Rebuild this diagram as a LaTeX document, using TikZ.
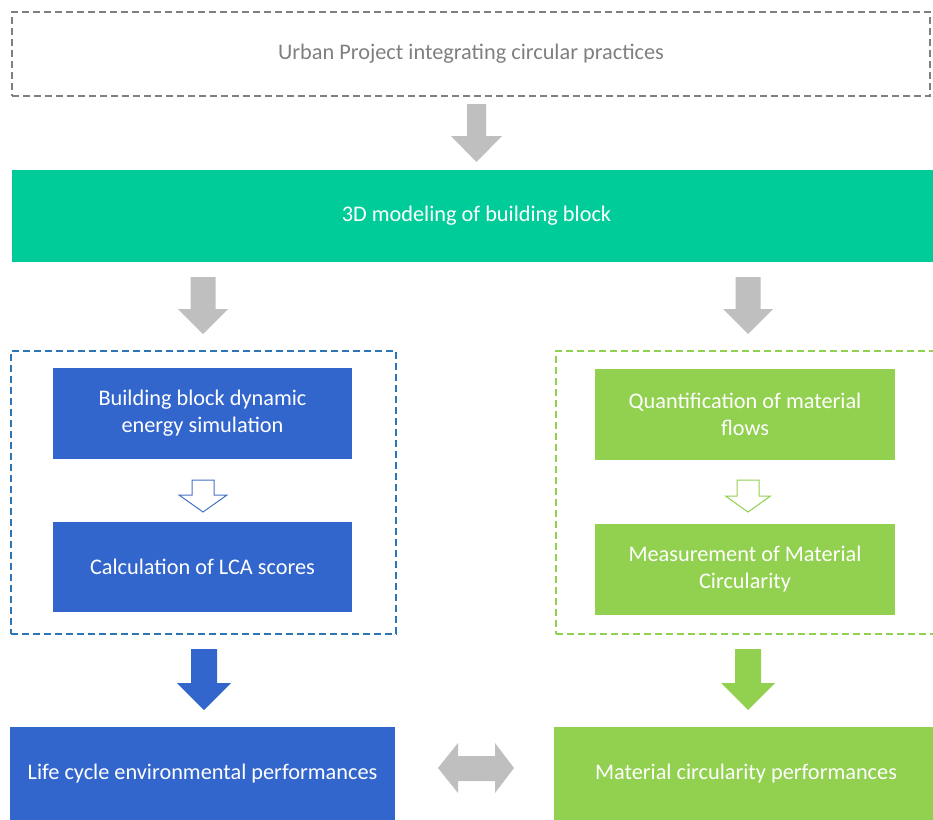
\documentclass[tikz,border=0pt]{standalone}
\usepackage{fontspec}
\setmainfont{Carlito}
\definecolor{teal1}{HTML}{00CC99}
\definecolor{blue1}{HTML}{3366CC}
\definecolor{green1}{HTML}{92D050}
\definecolor{dashblue}{HTML}{2E75B6}
\definecolor{arrowgray}{HTML}{BFBFBF}
\definecolor{textgray}{HTML}{7F7F7F}
\definecolor{lineblue}{HTML}{4472C4}
% block arrow pointing down: style, centre x, top, neck, tip, shaft half width, head half width
\newcommand{\blockdown}[7]{%
  \path[#1] (#2-#6,#3) -- (#2+#6,#3) -- (#2+#6,#4) -- (#2+#7,#4) -- (#2,#5)
    -- (#2-#7,#4) -- (#2-#6,#4) -- cycle;}
\begin{document}
\begin{tikzpicture}[
        x=1pt, y=-1pt,
        font=\fontsize{22.3}{27}\selectfont,
        box/.style={draw=none, text=white, align=center, inner sep=0pt},
        frame/.style={draw, line width=1.5pt, dash pattern=on 7pt off 4pt},
        grayarrow/.style={fill=arrowgray},
        hollow/.style={draw, line width=1pt, fill=white}
    ]
        \useasboundingbox (0,0) rectangle (933,819);
        \clip (0,0) rectangle (933,819);

        % Urban project
        \node[frame, draw=textgray, text=textgray, minimum width=918, minimum height=84, align=center] (urban) at (471,54) {Urban Project integrating circular practices};

        % 3D modeling
        \node[box, fill=teal1, minimum width=929, minimum height=92] (model) at (476.5,216) {3D modeling of building block};

        % Dashed groups
        \node[frame, draw=dashblue, minimum width=385, minimum height=283] (lcagroup) at (203.5,492.5) {};
        \node[frame, draw=green1, minimum width=384, minimum height=283] (matgroup) at (748,492.5) {};

        % Left branch
        \node[box, fill=blue1, minimum width=299, minimum height=91] (energy) at (202.5,413.5) {Building block dynamic\\energy simulation};
        \node[box, fill=blue1, minimum width=299, minimum height=90] (lca) at (202.5,567) {Calculation of LCA scores};

        % Right branch
        \node[box, fill=green1, minimum width=300, minimum height=91] (flows) at (745,414.5) {Quantification of material\\flows};
        \node[box, fill=green1, minimum width=300, minimum height=91] (circ) at (745,569.5) {Measurement of Material\\Circularity};

        % Performances
        \node[box, fill=blue1, minimum width=385, minimum height=93] (lifecycle) at (202.5,773.5) {Life cycle environmental performances};
        \node[box, fill=green1, minimum width=384, minimum height=93] (matperf) at (746,773.5) {Material circularity performances};

        % Block arrows
        \blockdown{grayarrow}{476.5}{104}{136}{162}{9.5}{25.5}
        \blockdown{grayarrow}{203}{277}{309}{334}{12.5}{25}
        \blockdown{grayarrow}{748}{277}{309}{334}{12.5}{25}
        \blockdown{hollow, draw=lineblue}{203}{480}{495}{512}{11}{24}
        \blockdown{hollow, draw=green1}{748}{480}{496}{512}{11}{22.5}
        \blockdown{fill=blue1}{204}{649}{683}{710}{13}{27}
        \blockdown{fill=green1}{748}{649}{683}{710}{13}{27}

        % Two-way arrow
        \path[grayarrow] (438,768) -- (458,743) -- (458,756) -- (495,756) -- (495,743)
            -- (514,768) -- (495,793) -- (495,781) -- (458,781) -- (458,793) -- cycle;
    \end{tikzpicture}
\end{document}
